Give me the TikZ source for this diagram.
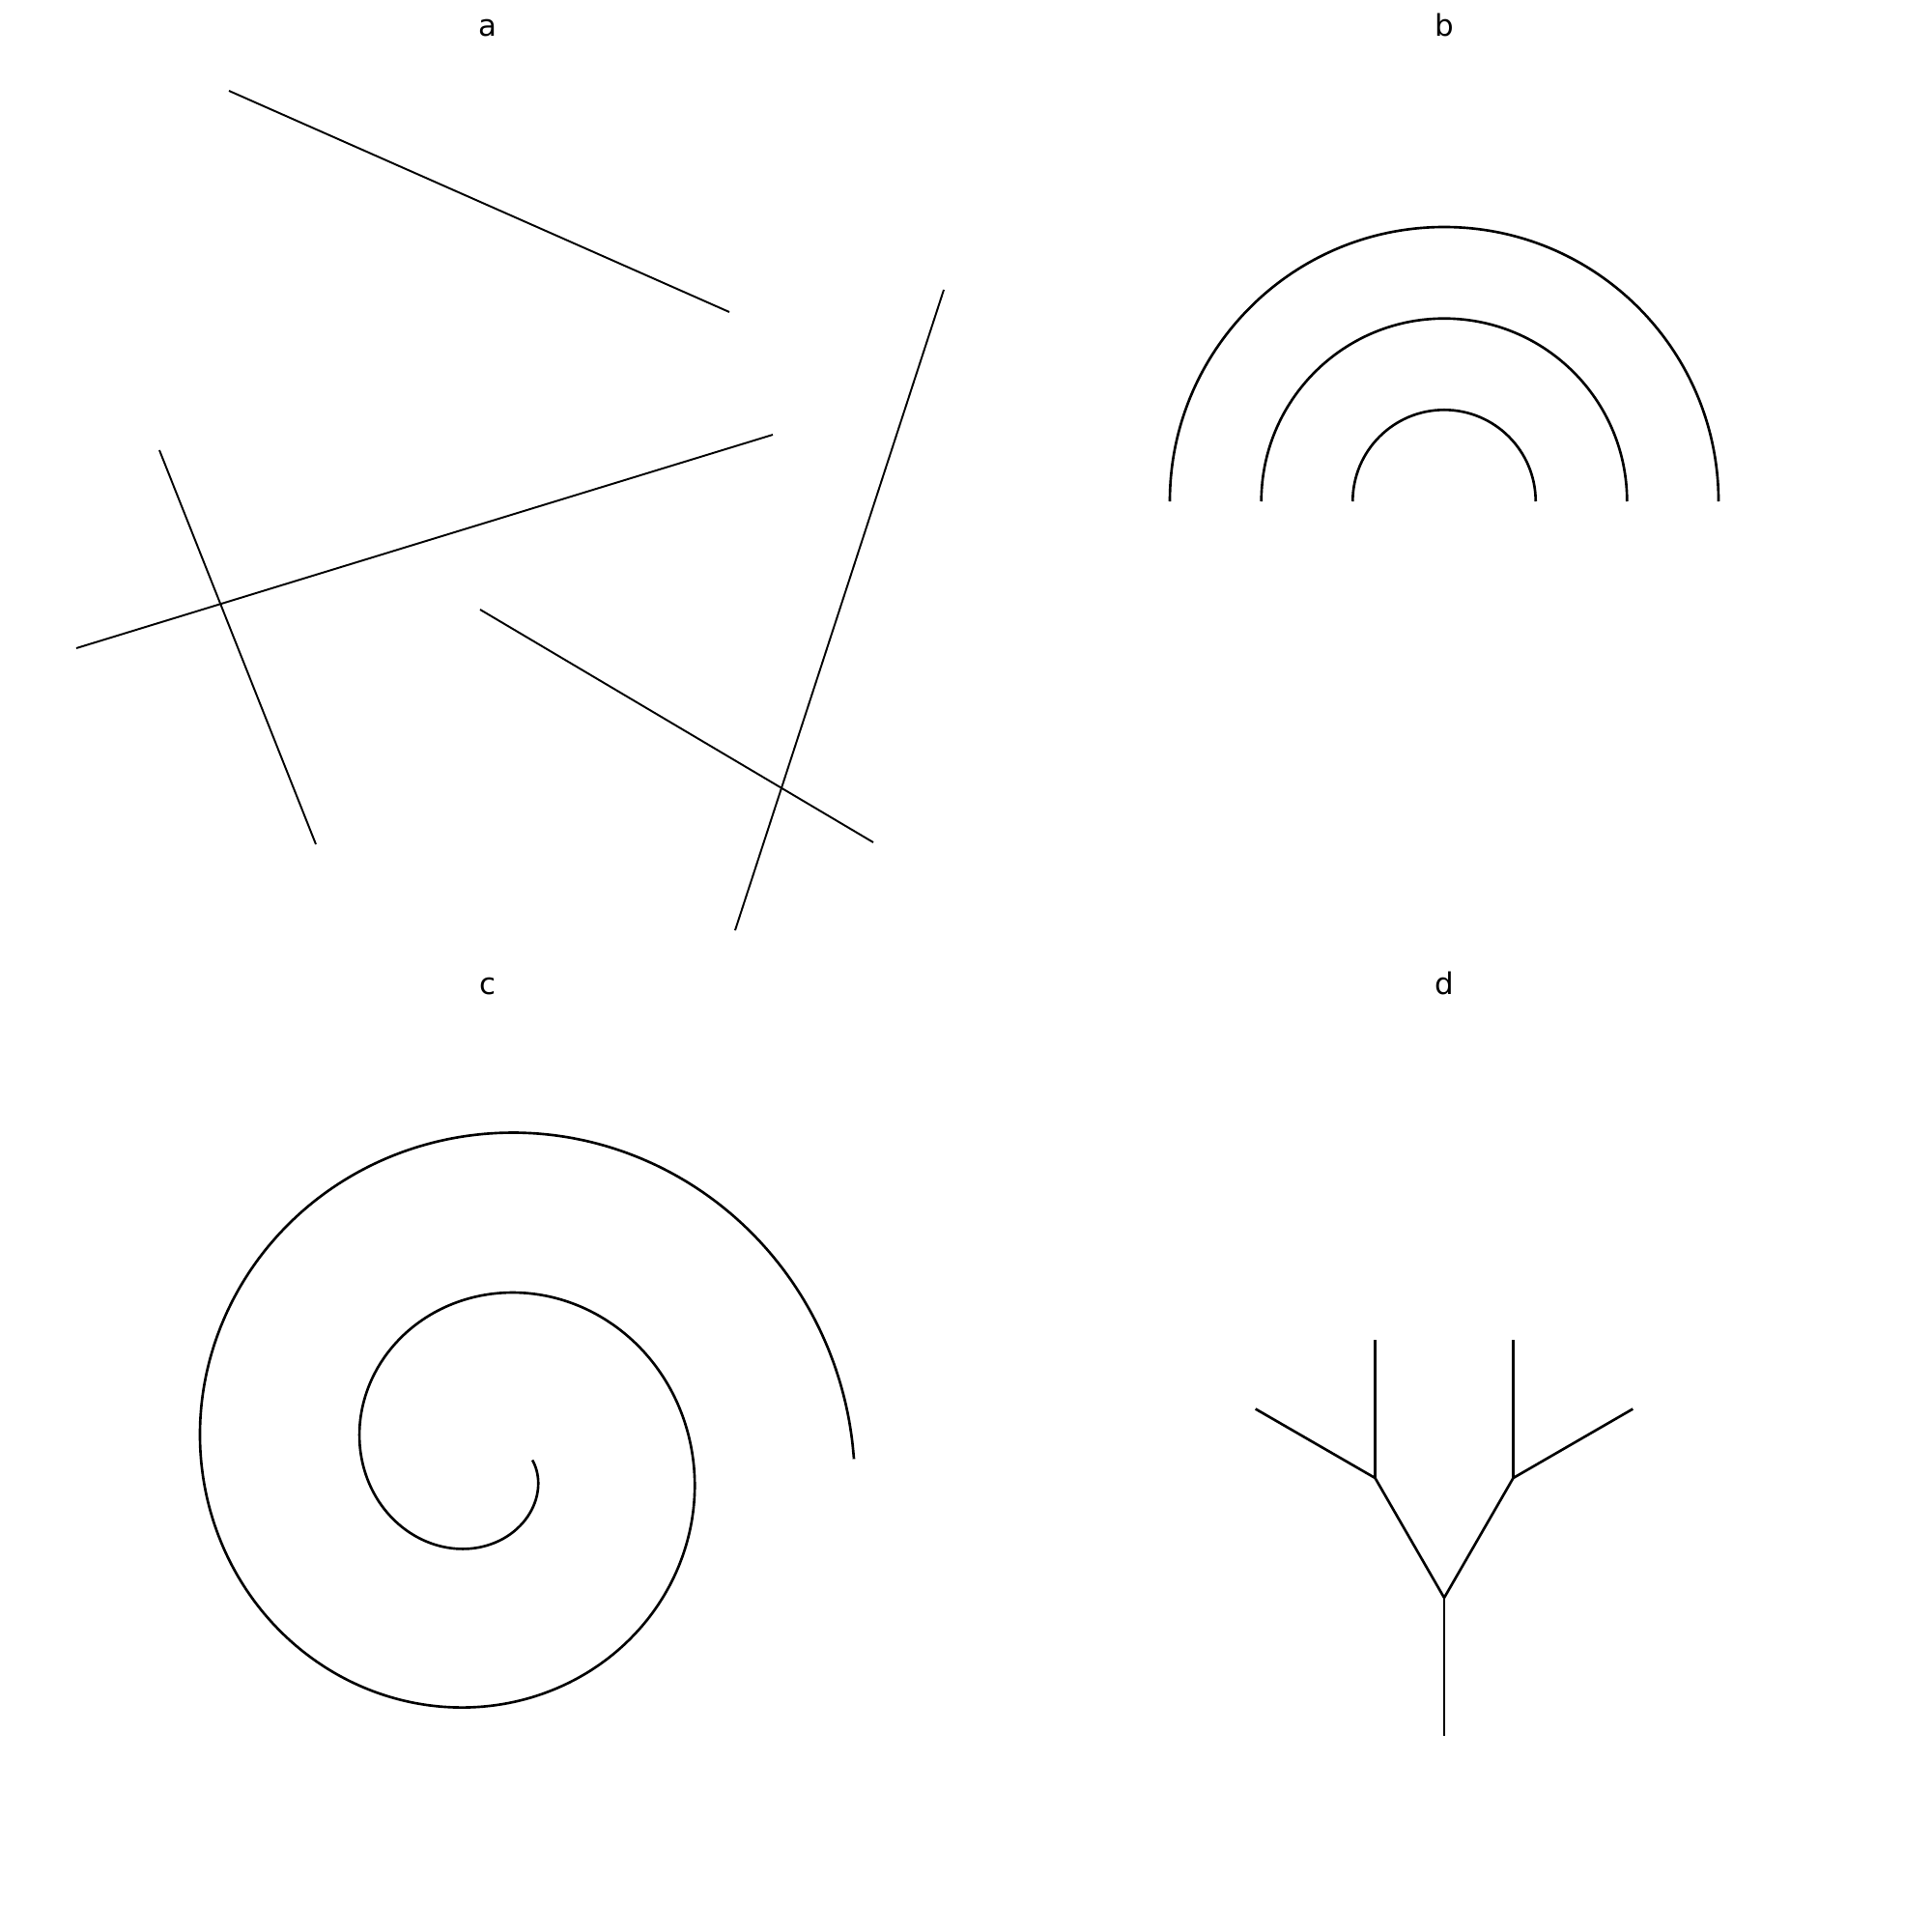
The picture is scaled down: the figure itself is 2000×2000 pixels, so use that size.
\documentclass[tikz,border=0pt]{standalone}
\usepackage{fontspec}
\setmainfont{DejaVu Sans}
\tikzset{
    thin line/.style={line width=0.55pt, black},
    curve line/.style={line width=0.75pt, black},
    panel label/.style={anchor=base, inner sep=0pt, font=\fontsize{8.8}{10}\selectfont}
}
\begin{document}
\begin{tikzpicture}[x=0.01cm, y=-0.01cm]
                
                    \useasboundingbox (0,0) rectangle (2000,2000);
                
                    % Panel labels
                    \node[panel label] (la) at (505,38) {a};
                    \node[panel label] (lb) at (1495,38) {b};
                    \node[panel label] (lc) at (505,1029) {c};
                    \node[panel label] (ld) at (1495,1029) {d};
                
                    % a: straight segments
                    \coordinate (s1a) at (237,94);  \coordinate (s1b) at (755,323);
                    \coordinate (s2a) at (165,466); \coordinate (s2b) at (327,874);
                    \coordinate (s3a) at (79,671);  \coordinate (s3b) at (800,450);
                    \coordinate (s4a) at (497,631); \coordinate (s4b) at (904,872);
                    \coordinate (s5a) at (977,300); \coordinate (s5b) at (761,963);
                    \foreach \i in {1,...,5}
                        \draw[thin line] (s\i a) -- (s\i b);
                
                    % b: nested half circles
                    \foreach \r in {94.7,189.3,284}
                        \draw[curve line] (1495-\r,519) arc[start angle=180, end angle=0, x radius=\r, y radius=-\r];
                
                    % c: spiral
                    \draw[curve line] plot[domain=0:12.566, samples=240, smooth, variable=\t]
                        ({504.5+(46.6+26.5*\t)*cos(\t r)}, {1511.5+(46.6+26.5*\t)*sin(\t r)});
                
                    % d: branching tree
                    \coordinate (root) at (1495,1797);
                    \coordinate (fork) at (1495,1654);
                    \coordinate (kl) at (1423.5,1530);
                    \coordinate (kr) at (1566.5,1530);
                    \coordinate (tl) at (1423.5,1387);
                    \coordinate (tr) at (1566.5,1387);
                    \coordinate (ol) at (1299.7,1458.5);
                    \coordinate (or) at (1690.3,1458.5);
                    \draw[curve line] (root) -- (fork);
                    \draw[curve line] (fork) -- (kl);
                    \draw[curve line] (fork) -- (kr);
                    \draw[curve line] (kl) -- (tl);
                    \draw[curve line] (kl) -- (ol);
                    \draw[curve line] (kr) -- (tr);
                    \draw[curve line] (kr) -- (or);
                
            \end{tikzpicture}
\end{document}
